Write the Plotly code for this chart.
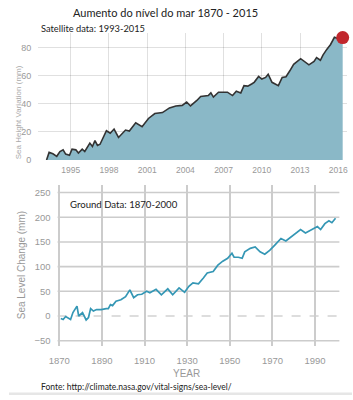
import plotly.graph_objects as go

# Satellite data (1993-2016), mm
sat_years = [1993.1, 1993.3, 1993.6, 1993.9, 1994.15, 1994.4, 1994.6, 1994.9, 1995.1, 1995.4,
             1995.6, 1995.9, 1996.1, 1996.5, 1996.7, 1996.9, 1997.1, 1997.3, 1997.8, 1998.1,
             1998.4, 1998.75, 1999.3, 1999.6, 2000.1, 2000.6, 2001.1, 2001.6, 2002.2, 2002.75,
             2003.25, 2003.75, 2004.1, 2004.4, 2004.9, 2005.2, 2005.8, 2006.0, 2006.2, 2006.6,
             2007.3, 2007.7, 2008.0, 2008.35, 2008.6, 2008.9, 2009.2, 2009.4, 2009.75, 2010.0,
             2010.3, 2010.5, 2010.8, 2011.3, 2011.6, 2011.9, 2012.2, 2012.5, 2013.05, 2013.3,
             2013.7, 2014.1, 2014.3, 2014.6, 2014.8, 2015.1, 2015.4, 2015.7, 2016.0, 2016.35]
sat_values = [0, 5.4, 4.4, 2.6, 6, 7.2, 4.2, 3.3, 7.7, 7.2,
              4.9, 7.7, 6, 12, 9.6, 13.8, 10.3, 11.2, 20.8, 19,
              22, 16, 21.3, 20.6, 26.4, 23.6, 29.5, 33, 33.7, 37,
              38.4, 38.8, 41.2, 38.4, 42.3, 45.1, 45.8, 47.7, 44.7, 48.2,
              48.2, 45.8, 48.9, 47.7, 52.8, 52.5, 54, 55.2, 59.4, 57.5,
              58.7, 61, 55.2, 52.8, 58.7, 59.2, 63.4, 68, 72, 70.4,
              67.6, 70, 72.8, 70.9, 74.6, 78.6, 82.1, 87.2, 86.3, 87]

# Ground data (1870-2000), mm
gnd_years = [1870.7, 1871.8, 1873, 1875.3, 1876.4, 1877.9, 1878.3, 1879.1, 1880.9, 1882.6,
             1883.7, 1884.7, 1886, 1887.5, 1889.7, 1892, 1893, 1894, 1895, 1896.6,
             1898.9, 1901.1, 1903.1, 1904.9, 1906.7, 1908.7, 1911, 1912.5, 1915.4, 1917.9,
             1920.9, 1923.2, 1926.2, 1928.8, 1930.8, 1932.7, 1935.3, 1937.6, 1939.4, 1942.2,
             1944.4, 1946.7, 1949, 1951, 1952, 1954, 1955.8, 1957, 1959.6, 1961.9,
             1964.2, 1966.4, 1968.7, 1971, 1974, 1976.3, 1978.3, 1980.9, 1983.2, 1985.5,
             1988.5, 1991.1, 1992.6, 1994.6, 1996.5, 1997.9, 1999.6]
gnd_values = [-5, -7, -1, -7, 7, 17, 20, 0, 7, -8,
              -3, 15, 10, 13, 13, 15, 15, 23, 21, 30,
              33, 39, 53, 37, 43, 44, 50, 47, 54, 43,
              55, 43, 57, 48, 60, 67, 65, 77, 87, 90,
              103, 111, 117, 127, 119, 119, 117, 130, 137, 140,
              130, 125, 133, 143, 157, 152, 159, 167, 175, 168,
              175, 181, 175, 187, 193, 189, 198]

gnd_ytick_vals = [-50, 0, 50, 100, 150, 200, 250]
gnd_grid_vals = [-50, 50, 100, 150, 200, 250]

title_text = "Aumento do nível do mar 1870 - 2015"
sat_label = "Satellite data: 1993-2015"
gnd_label = "Ground Data: 1870-2000"
source_text = "Fonte: http://climate.nasa.gov/vital-signs/sea-level/"
sat_ytitle = "Sea Height Variation (mm)"
gnd_ytitle = "Sea Level Change (mm)"

W, H = 353, 400
SANS = "Liberation Sans, Arial, sans-serif"
fig = go.Figure()

fig.add_trace(go.Scatter(x=sat_years, y=sat_values, mode="lines", fill="tozeroy",
                         fillcolor="rgb(138,184,199)", line=dict(color="#333333", width=1.6),
                         xaxis="x", yaxis="y", hoverinfo="skip"))
fig.add_trace(go.Scatter(x=[sat_years[-1]], y=[sat_values[-1]], mode="markers", cliponaxis=False,
                         marker=dict(color="#c1272d", size=13), xaxis="x", yaxis="y"))
fig.add_trace(go.Scatter(x=gnd_years, y=gnd_values, mode="lines",
                         line=dict(color="#3597b5", width=1.7), xaxis="x2", yaxis="y2"))

fig.update_layout(
    width=W, height=H, margin=dict(l=0, r=0, t=0, b=0),
    paper_bgcolor="white", plot_bgcolor="white", showlegend=False,
    font=dict(family=SANS),
    xaxis=dict(domain=[30 / W, 348 / W], range=[1992.44, 2016.7], tick0=1995, dtick=3,
               showgrid=True, gridcolor="rgba(0,0,0,0.12)", gridwidth=1, zeroline=False,
               ticks="", ticklabelstandoff=4, tickfont=dict(size=8.5, family=SANS, color="#999999"),
               showline=False),
    yaxis=dict(domain=[1 - 162 / H, 1 - 33.8 / H], range=[0, 90], dtick=20,
               showgrid=True, gridcolor="rgba(0,0,0,0.12)", gridwidth=1, zeroline=False,
               ticks="", ticklabelstandoff=6, tickfont=dict(size=9, family=SANS, color="#999999")),
    xaxis2=dict(domain=[50 / W, 340 / W], range=[1869.2, 2001.4], tick0=1870, dtick=20,
                anchor="y2", showgrid=True, gridcolor="#cccccc", gridwidth=1.6, zeroline=False,
                ticks="", ticklabelstandoff=8, tickfont=dict(size=9.5, family=SANS, color="#999999")),
    yaxis2=dict(domain=[1 - 350 / H, 1 - 187.5 / H], range=[-60, 265], tickvals=gnd_ytick_vals,
                anchor="x2", showgrid=False, zeroline=False,
                ticks="", ticklabelstandoff=6, tickfont=dict(size=9.5, family=SANS, color="#999999")),
)

shapes = []
for v in gnd_grid_vals:
    shapes.append(dict(type="line", xref="x2 domain", yref="y2", x0=0, x1=1, y0=v, y1=v,
                       line=dict(color="#cccccc", width=1.6), layer="below"))
shapes.append(dict(type="line", xref="x2 domain", yref="y2", x0=0, x1=1, y0=0, y1=0,
                   line=dict(color="#bbbbbb", width=1.2, dash="dash"), layer="below"))
shapes.append(dict(type="rect", xref="paper", yref="paper", x0=0, x1=1, y0=0, y1=2.5 / H,
                   fillcolor="#e6e6e6", line=dict(width=0)))
fig.update_layout(shapes=shapes)

def ann(text, x, y, size, color="#222222", family="Lato, sans-serif", xanchor="left", angle=0):
    fig.add_annotation(text=text, xref="paper", yref="paper", x=x / W, y=1 - y / H,
                       showarrow=False, xanchor=xanchor, yanchor="middle", textangle=angle,
                       borderpad=0, font=dict(family=family, size=size, color=color))

ann(title_text, 161, 13, 11, xanchor="center")
ann(sat_label, 32, 29, 9.3)
ann(gnd_label, 62, 207, 9.6)
ann(source_text, 32, 392, 8.5)
ann(sat_ytitle, 10, 114, 8, color="#aaaaaa", family=SANS, xanchor="center", angle=-90)
ann(gnd_ytitle, 13, 269, 10, color="#999999", family=SANS, xanchor="center", angle=-90)
ann("YEAR", 183, 378, 10, color="#999999", family=SANS, xanchor="center")

fig.write_html("out.html")
